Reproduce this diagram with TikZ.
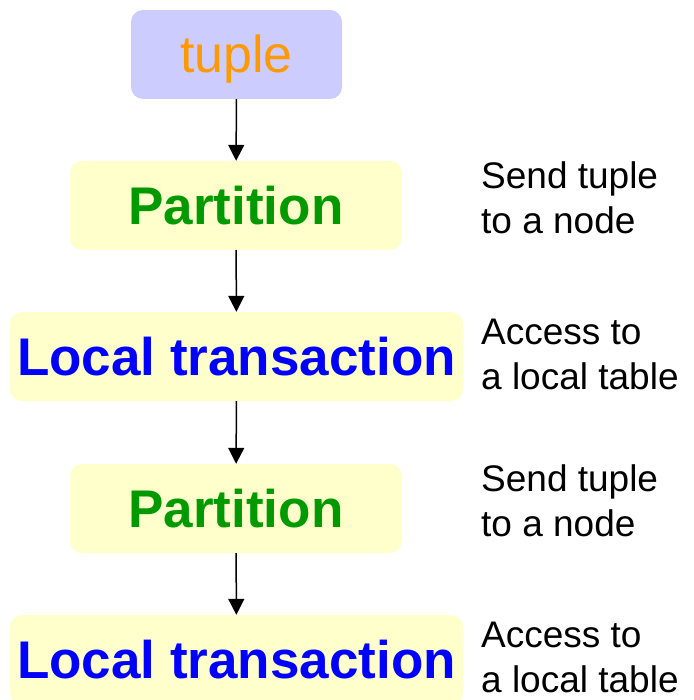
\documentclass[tikz,border=0pt]{standalone}
\usepackage{fontspec}
\setmainfont{Liberation Sans}
\usetikzlibrary{arrows.meta}
\definecolor{lav}{HTML}{CCCCFF}
\definecolor{ylw}{HTML}{FFFFCC}
\definecolor{orng}{HTML}{FF9900}
\definecolor{grn}{HTML}{009900}
\definecolor{blu}{HTML}{0000FF}
\tikzset{
  box/.style={rounded corners=12pt, inner sep=0pt, minimum height=89pt},
  tuplebox/.style={box, fill=lav, text=orng, minimum width=211pt, font=\fontsize{52}{60}\selectfont},
  partbox/.style={box, fill=ylw, text=grn, minimum width=332pt, font=\fontsize{53}{60}\selectfont\bfseries},
  localbox/.style={box, fill=ylw, text=blu, minimum width=453pt, font=\fontsize{53}{60}\selectfont\bfseries},
  note/.style={anchor=north west, inner sep=0pt, align=left, font=\fontsize{37}{45}\selectfont},
  conn/.style={line width=1.5pt, -{Triangle[width=16pt,length=16pt]}}
}
\begin{document}
\begin{tikzpicture}[x=1pt,y=-1pt]
\useasboundingbox (0,0) rectangle (693,700);
\node[tuplebox, text depth=7pt, text height=43pt] (t) at (236.5,54.5) {tuple};
\node[partbox] (p1) at (236,205.5) {Partition};
\node[localbox] (l1) at (236.5,356.5) {Local transaction};
\node[partbox] (p2) at (236,508.5) {Partition};
\node[localbox] (l2) at (236.5,659.5) {Local transaction};
\draw[conn] (t) -- (p1);
\draw[conn] (p1) -- (l1);
\draw[conn] (l1) -- (p2);
\draw[conn] (p2) -- (l2);
\node[note] (n1) at (481,161) {Send tuple\\to a node};
\node[note] (n2) at (481,319) {Access to\\a local table};
\node[note] (n3) at (481,464) {Send tuple\\to a node};
\node[note] (n4) at (481,622) {Access to\\a local table};
\end{tikzpicture}
\end{document}
